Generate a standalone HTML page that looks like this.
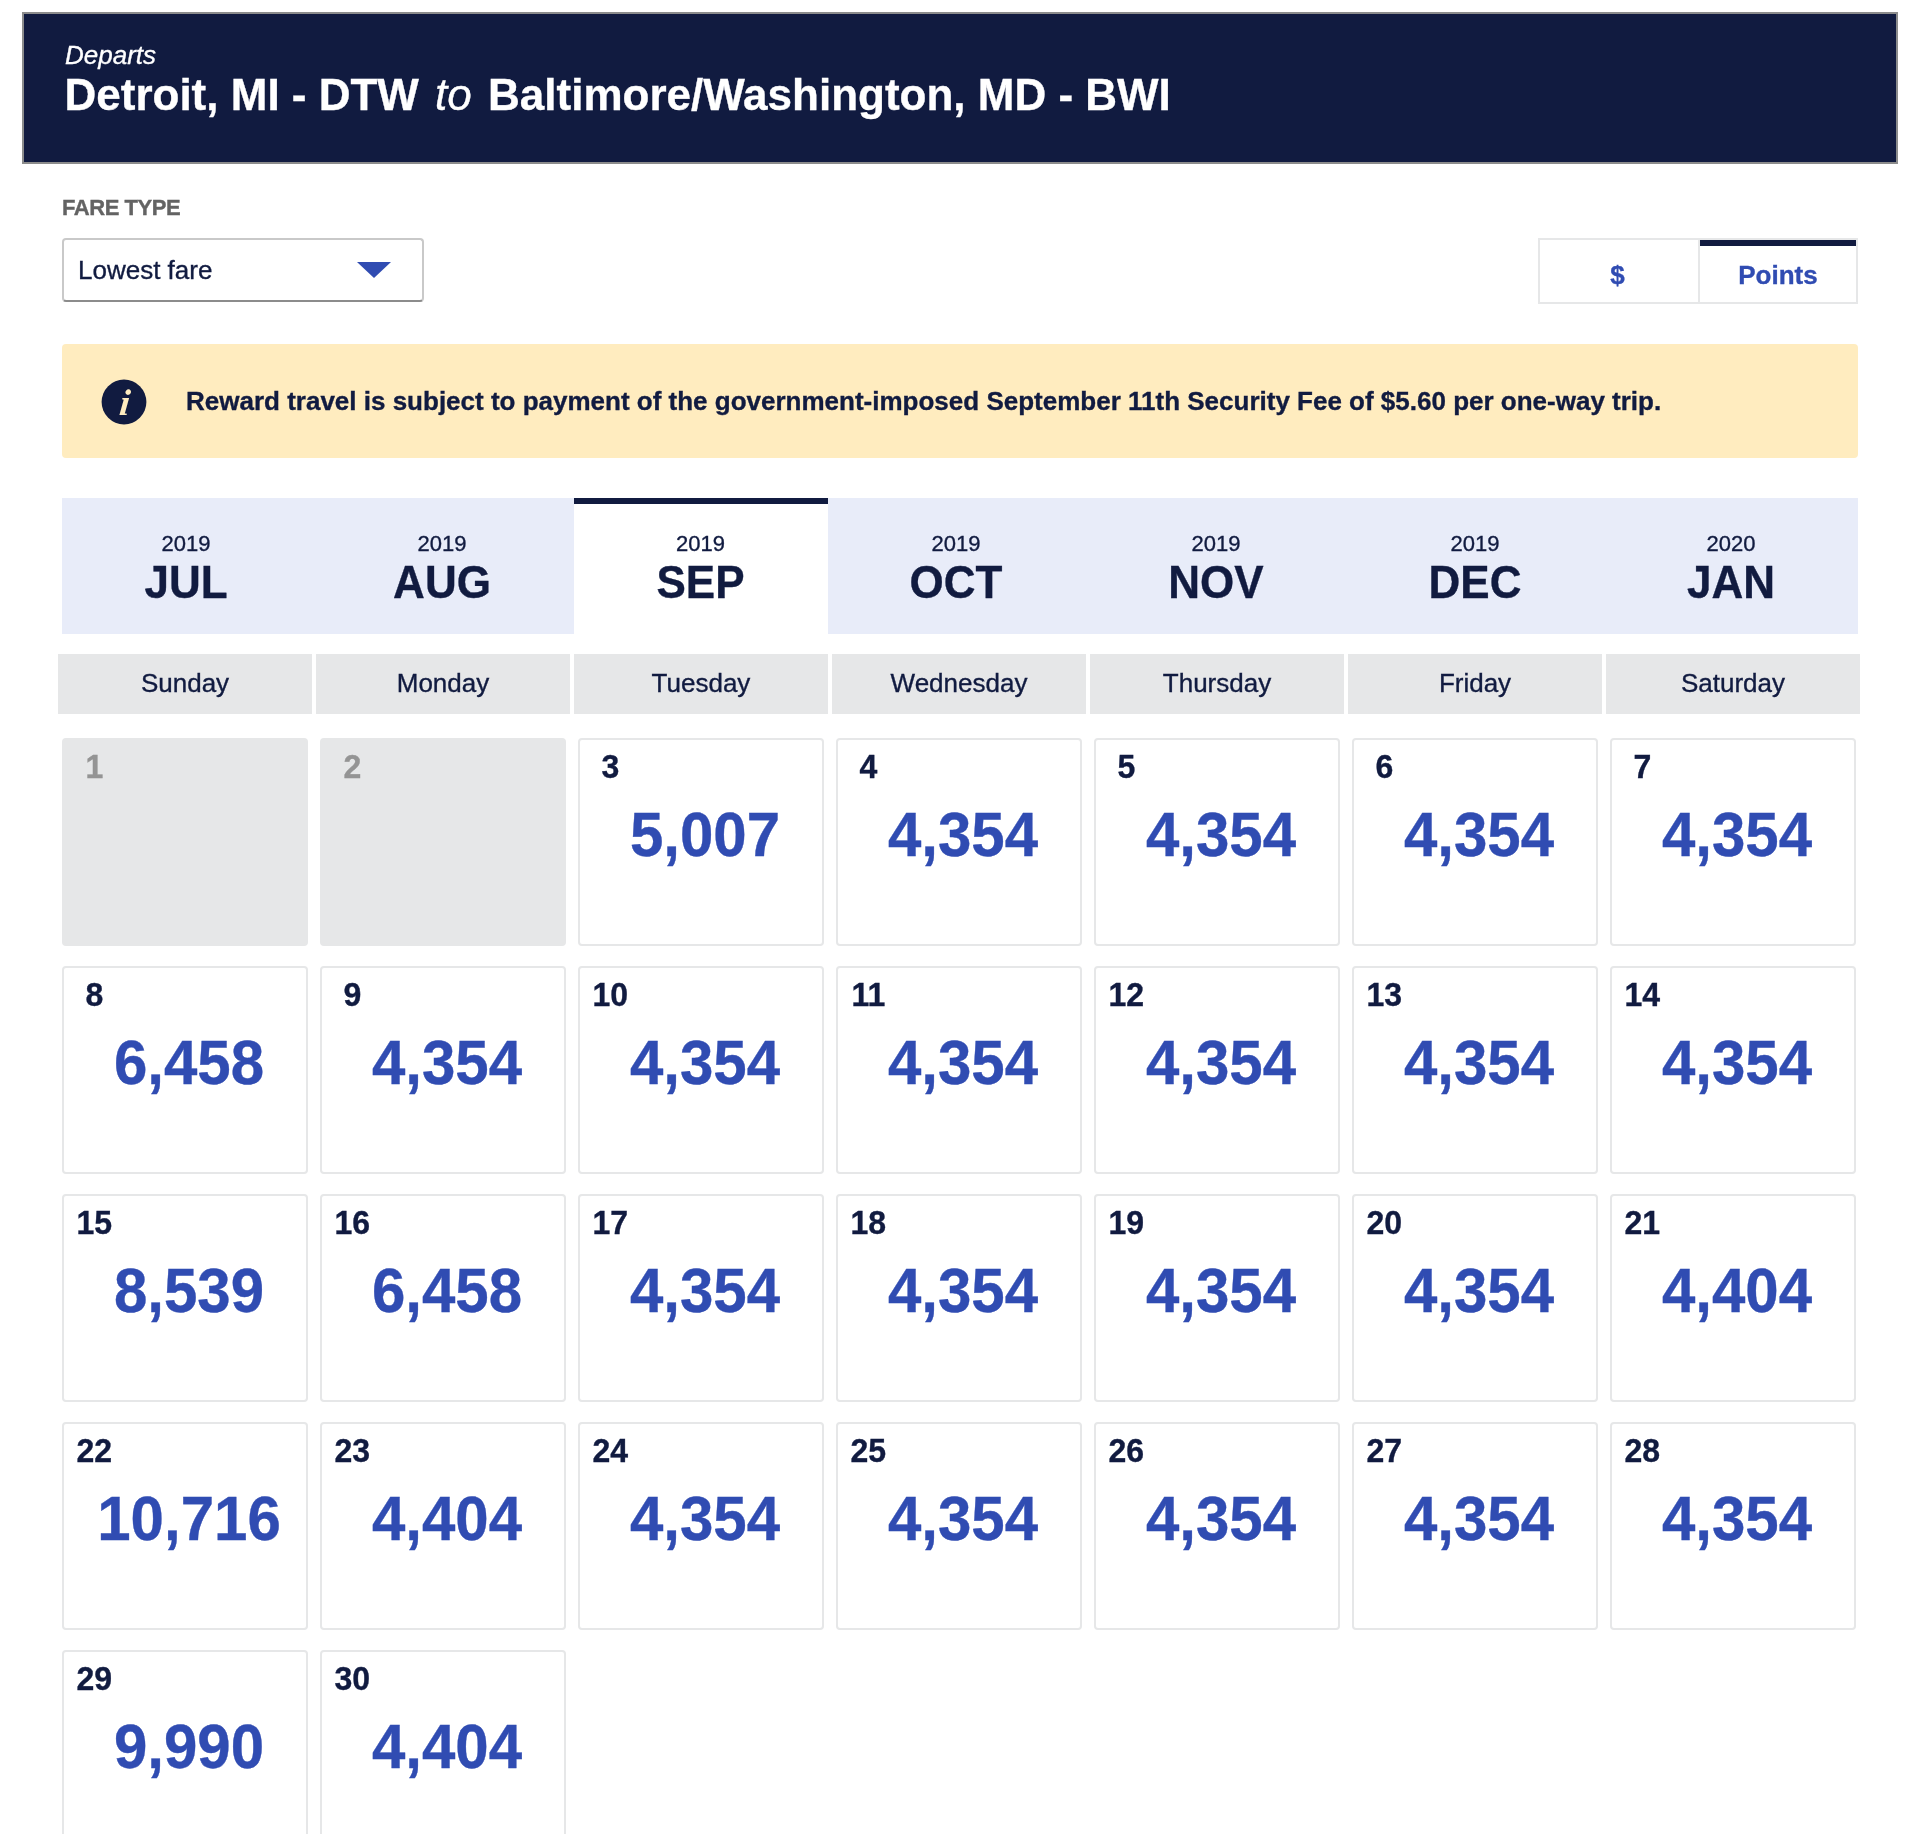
<!DOCTYPE html>
<html lang="en">
<head>
<meta charset="utf-8">
<title>Low Fare Calendar</title>
<style>
  html, body { margin: 0; padding: 0; background: #fff; }
  body {
    width: 1906px; height: 1834px; overflow: hidden; position: relative;
    font-family: "Liberation Sans", sans-serif;
    color: #111b40;
    -webkit-font-smoothing: antialiased;
    will-change: transform;
    -webkit-text-stroke: 0.35px currentColor;
  }
  * { box-sizing: border-box; }

  /* ---------- header ---------- */
  .hdr {
    position: absolute; left: 22px; top: 12px; width: 1876px; height: 152px;
    background: #111b40; border: 2px solid #8c8c8c; color: #fff;
  }
  .hdr .departs {
    position: absolute; left: 41px; top: 25.5px;
    font-size: 26px; line-height: 30px; font-style: italic; white-space: nowrap;
  }
  .hdr .route {
    position: absolute; left: 40.5px; top: 54.5px;
    font-size: 44px; line-height: 52px; font-weight: bold; white-space: nowrap;
  }
  .hdr .route i { font-weight: normal; margin: 0 4px 0 4px; }

  /* ---------- fare type ---------- */
  .lbl {
    position: absolute; left: 62px; top: 195px;
    font-size: 22px; line-height: 26px; font-weight: bold; color: #636363;
    white-space: nowrap; letter-spacing: -0.45px;
  }
  .sel {
    position: absolute; left: 62px; top: 238px; width: 362px; height: 64px;
    border: 2px solid #c9c9c9; border-bottom-color: #8c8c8c; border-radius: 4px; background: #fff;
  }
  .sel span {
    position: absolute; left: 14px; top: 15px; font-size: 26px; line-height: 30px; white-space: nowrap;
  }
  .sel svg { position: absolute; left: 293px; top: 22px; }

  /* ---------- toggle ---------- */
  .tog { position: absolute; left: 1538px; top: 238px; width: 320px; height: 66px; }
  .tog div {
    position: absolute; top: 0; height: 66px; width: 162px;
    border: 2px solid #e6e7e8; background: #fff;
    color: #304cb2; font-size: 26px; font-weight: bold; text-align: center; line-height: 70px;
  }
  .tog .a { left: 0; padding-right: 3px; }
  .tog .b { left: 160px; width: 160px; }
  .tog .b::before {
    content: ""; position: absolute; left: 0; right: 0; top: 0; height: 6px; background: #111b40;
  }

  /* ---------- banner ---------- */
  .msg {
    position: absolute; left: 62px; top: 344px; width: 1796px; height: 114px;
    background: #ffecbf; border-radius: 4px;
  }
  .msg svg { position: absolute; left: 39px; top: 35px; }
  .msg p {
    position: absolute; left: 124px; top: 42px; margin: 0;
    font-size: 26px; line-height: 30px; font-weight: bold; white-space: nowrap;
  }

  /* ---------- months ---------- */
  .months {
    position: absolute; left: 62px; top: 498px; width: 1796px; height: 136px;
    background: #e8ecf9;
  }
  .months .m {
    position: absolute; top: 0; height: 136px; width: 256px; text-align: center;
  }
  .months .m small { display: block; font-size: 22px; line-height: 26px; margin-top: 33px; }
  .months .m b { display: block; font-size: 44px; line-height: 48px; position: relative; top: 1.5px; transform: scaleY(1.035); transform-origin: 50% 39px; }
  .months .m.on { background: #fff; border-top: 6px solid #111b40; }
  .months .m.on small { margin-top: 27px; }

  /* ---------- calendar ---------- */
  .dow {
    position: absolute; top: 654px; height: 60px; width: 254px; background: #e6e7e8;
    font-size: 26px; line-height: 58px; text-align: center;
  }
  .day {
    position: absolute; width: 246px; height: 208px; border: 2px solid #e6e7e8; border-radius: 4px;
    background: #fff;
  }
  .day.off { background: #e6e7e8; }
  .day .n {
    position: absolute; left: 12.5px; top: 8.5px; font-size: 32px; line-height: 36px; font-weight: bold;
    white-space: nowrap; min-width: 35.6px; text-align: center;
    transform: scaleY(1.045); transform-origin: 50% 29px;
  }
  .day.off .n { color: #949494; }
  .day .p {
    position: absolute; left: 8px; right: 0; top: 60px; text-align: center;
    font-size: 60px; line-height: 70px; font-weight: bold; color: #304cb2; white-space: nowrap;
    transform: scaleY(1.045); transform-origin: 50% 34px;
  }
</style>
</head>
<body>

<div class="hdr">
  <div class="departs">Departs</div>
  <div class="route">Detroit, MI - DTW <i>to</i> Baltimore/Washington, MD - BWI</div>
</div>

<div class="lbl">FARE TYPE</div>
<div class="sel">
  <span>Lowest fare</span>
  <svg width="34" height="16" viewBox="0 0 34 16"><path d="M0 0H34L17 16Z" fill="#304cb2"/></svg>
</div>

<div class="tog">
  <div class="a">$</div>
  <div class="b">Points</div>
</div>

<div class="msg">
  <svg width="46" height="46" viewBox="0 0 46 46">
    <circle cx="23" cy="23" r="22.4" fill="#111b40"/>
    <text x="22.6" y="36.3" text-anchor="middle" transform="translate(23 36.3) skewX(-6) translate(-23 -36.3)" font-family="Liberation Serif, serif" font-style="italic" font-weight="bold" font-size="37" fill="#ffecbf">i</text>
  </svg>
  <p>Reward travel is subject to payment of the government-imposed September 11th Security Fee of $5.60 per one-way trip.</p>
</div>

<div class="months">
  <div class="m" style="left:-4px"><small>2019</small><b>JUL</b></div>
  <div class="m" style="left:252px"><small>2019</small><b>AUG</b></div>
  <div class="m on" style="left:512px;width:254px;padding-right:1px"><small>2019</small><b>SEP</b></div>
  <div class="m" style="left:766px"><small>2019</small><b>OCT</b></div>
  <div class="m" style="left:1026px"><small>2019</small><b>NOV</b></div>
  <div class="m" style="left:1285px"><small>2019</small><b>DEC</b></div>
  <div class="m" style="left:1541px"><small>2020</small><b>JAN</b></div>
</div>

<div id="cal">
<div class="dow" style="left:58px">Sunday</div>
<div class="dow" style="left:316px">Monday</div>
<div class="dow" style="left:574px">Tuesday</div>
<div class="dow" style="left:832px">Wednesday</div>
<div class="dow" style="left:1090px">Thursday</div>
<div class="dow" style="left:1348px">Friday</div>
<div class="dow" style="left:1606px">Saturday</div>
<div class="day off" style="left:62px;top:738px"><span class="n">1</span></div>
<div class="day off" style="left:320px;top:738px"><span class="n">2</span></div>
<div class="day" style="left:578px;top:738px"><span class="n">3</span><span class="p">5,007</span></div>
<div class="day" style="left:836px;top:738px"><span class="n">4</span><span class="p">4,354</span></div>
<div class="day" style="left:1094px;top:738px"><span class="n">5</span><span class="p">4,354</span></div>
<div class="day" style="left:1352px;top:738px"><span class="n">6</span><span class="p">4,354</span></div>
<div class="day" style="left:1610px;top:738px"><span class="n">7</span><span class="p">4,354</span></div>
<div class="day" style="left:62px;top:966px"><span class="n">8</span><span class="p">6,458</span></div>
<div class="day" style="left:320px;top:966px"><span class="n">9</span><span class="p">4,354</span></div>
<div class="day" style="left:578px;top:966px"><span class="n">10</span><span class="p">4,354</span></div>
<div class="day" style="left:836px;top:966px"><span class="n">11</span><span class="p">4,354</span></div>
<div class="day" style="left:1094px;top:966px"><span class="n">12</span><span class="p">4,354</span></div>
<div class="day" style="left:1352px;top:966px"><span class="n">13</span><span class="p">4,354</span></div>
<div class="day" style="left:1610px;top:966px"><span class="n">14</span><span class="p">4,354</span></div>
<div class="day" style="left:62px;top:1194px"><span class="n">15</span><span class="p">8,539</span></div>
<div class="day" style="left:320px;top:1194px"><span class="n">16</span><span class="p">6,458</span></div>
<div class="day" style="left:578px;top:1194px"><span class="n">17</span><span class="p">4,354</span></div>
<div class="day" style="left:836px;top:1194px"><span class="n">18</span><span class="p">4,354</span></div>
<div class="day" style="left:1094px;top:1194px"><span class="n">19</span><span class="p">4,354</span></div>
<div class="day" style="left:1352px;top:1194px"><span class="n">20</span><span class="p">4,354</span></div>
<div class="day" style="left:1610px;top:1194px"><span class="n">21</span><span class="p">4,404</span></div>
<div class="day" style="left:62px;top:1422px"><span class="n">22</span><span class="p">10,716</span></div>
<div class="day" style="left:320px;top:1422px"><span class="n">23</span><span class="p">4,404</span></div>
<div class="day" style="left:578px;top:1422px"><span class="n">24</span><span class="p">4,354</span></div>
<div class="day" style="left:836px;top:1422px"><span class="n">25</span><span class="p">4,354</span></div>
<div class="day" style="left:1094px;top:1422px"><span class="n">26</span><span class="p">4,354</span></div>
<div class="day" style="left:1352px;top:1422px"><span class="n">27</span><span class="p">4,354</span></div>
<div class="day" style="left:1610px;top:1422px"><span class="n">28</span><span class="p">4,354</span></div>
<div class="day" style="left:62px;top:1650px"><span class="n">29</span><span class="p">9,990</span></div>
<div class="day" style="left:320px;top:1650px"><span class="n">30</span><span class="p">4,404</span></div>
</div>

</body>
</html>
